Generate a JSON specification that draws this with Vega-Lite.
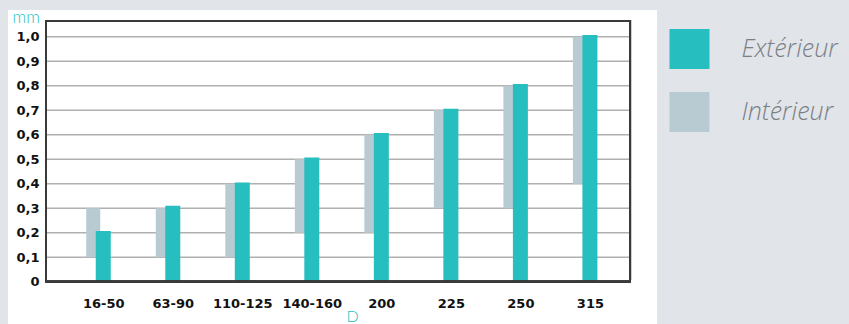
{
  "$schema": "https://vega.github.io/schema/vega-lite/v6.json",
  "width": 649,
  "height": 314,
  "autosize": {"type": "none"},
  "padding": {"left": 8, "top": 10, "right": 192, "bottom": 0},
  "background": "#e1e4e8",
  "config": {
    "view": {"fill": "white", "stroke": null},
    "axisY": {
      "orient": "left", "offset": -38,
      "domain": false, "ticks": false, "grid": false,
      "labelExpr": "datum.value == 0 ? '0' : replace(format(datum.value, '.1f'), '.', ',')",
      "labelFont": "DejaVu Sans", "labelFontWeight": "bold", "labelFontSize": 13, "labelColor": "#111111",
      "labelPadding": 7, "labelOverlap": false, "labelFlush": false,
      "titleAngle": 0, "titleX": -34, "titleY": 12, "titleAlign": "left", "titleBaseline": "alphabetic",
      "titleFont": "Lato", "titleFontWeight": 300, "titleFontSize": 17, "titleColor": "#26bebe"
    },
    "axisX": {
      "orient": "bottom", "offset": -42,
      "domain": false, "ticks": false, "grid": false,
      "labelExpr": "['16-50','63-90','110-125','140-160','200','225','250','315'][datum.value]",
      "labelFont": "DejaVu Sans", "labelFontWeight": "bold", "labelFontSize": 13, "labelColor": "#111111",
      "labelPadding": 15, "labelBaseline": "top", "labelDx": -3, "labelOverlap": false, "labelFlush": false, "labelBound": false,
      "titleX": 344, "titleY": 39, "titleAlign": "center", "titleBaseline": "alphabetic",
      "titleFont": "Lato", "titleFontWeight": 300, "titleFontSize": 16, "titleColor": "#26bebe"
    }
  },
  "datasets": {
    "bars": [
      {"D": "16-50", "i": 0, "ext": 0.207, "lo": 0.1, "hi": 0.3},
      {"D": "63-90", "i": 1, "ext": 0.31, "lo": 0.1, "hi": 0.3},
      {"D": "110-125", "i": 2, "ext": 0.405, "lo": 0.1, "hi": 0.4},
      {"D": "140-160", "i": 3, "ext": 0.507, "lo": 0.2, "hi": 0.5},
      {"D": "200", "i": 4, "ext": 0.607, "lo": 0.2, "hi": 0.6},
      {"D": "225", "i": 5, "ext": 0.706, "lo": 0.3, "hi": 0.7},
      {"D": "250", "i": 6, "ext": 0.807, "lo": 0.3, "hi": 0.8},
      {"D": "315", "i": 7, "ext": 1.007, "lo": 0.4, "hi": 1.0}
    ],
    "grid": [
      {"v": 0.1}, {"v": 0.2}, {"v": 0.3}, {"v": 0.4}, {"v": 0.5},
      {"v": 0.6}, {"v": 0.7}, {"v": 0.8}, {"v": 0.9}, {"v": 1.0}
    ]
  },
  "layer": [
    {
      "data": {"name": "grid"},
      "mark": {"type": "rule", "stroke": "#b0b0b0", "strokeWidth": 1.5},
      "encoding": {
        "y": {
          "field": "v", "type": "quantitative", "title": "mm",
          "scale": {"domain": [-0.1727, 1.109], "nice": false, "zero": false, "padding": 0},
          "axis": {"values": [0, 0.1, 0.2, 0.3, 0.4, 0.5, 0.6, 0.7, 0.8, 0.9, 1.0]}
        },
        "x": {
          "datum": -0.8234, "type": "quantitative", "title": "D",
          "scale": {"domain": [-1.37, 7.965], "nice": false, "zero": false, "padding": 0},
          "axis": {"values": [0, 1, 2, 3, 4, 5, 6, 7]}
        },
        "x2": {"datum": 7.577}
      }
    },
    {
      "data": {"name": "bars"},
      "mark": {"type": "bar", "size": 14, "xOffset": -10},
      "encoding": {
        "x": {
          "field": "i", "type": "quantitative", "title": "D",
          "scale": {"domain": [-1.37, 7.965], "nice": false, "zero": false, "padding": 0},
          "axis": {"values": [0, 1, 2, 3, 4, 5, 6, 7]}
        },
        "y": {
          "field": "lo", "type": "quantitative", "title": "mm",
          "scale": {"domain": [-0.1727, 1.109], "nice": false, "zero": false, "padding": 0},
          "axis": {"values": [0, 0.1, 0.2, 0.3, 0.4, 0.5, 0.6, 0.7, 0.8, 0.9, 1.0]}
        },
        "y2": {"field": "hi"},
        "color": {"datum": "Intérieur"}
      }
    },
    {
      "data": {"name": "bars"},
      "mark": {"type": "bar", "size": 15},
      "encoding": {
        "x": {
          "field": "i", "type": "quantitative", "title": "D",
          "scale": {"domain": [-1.37, 7.965], "nice": false, "zero": false, "padding": 0},
          "axis": {"values": [0, 1, 2, 3, 4, 5, 6, 7]}
        },
        "y": {
          "field": "ext", "type": "quantitative", "title": "mm",
          "scale": {"domain": [-0.1727, 1.109], "nice": false, "zero": false, "padding": 0},
          "axis": {"values": [0, 0.1, 0.2, 0.3, 0.4, 0.5, 0.6, 0.7, 0.8, 0.9, 1.0]}
        },
        "y2": {"datum": 0},
        "color": {
          "datum": "Extérieur",
          "scale": {"domain": ["Extérieur", "Intérieur"], "range": ["#26bebe", "#b9cbd2"]},
          "legend": {
            "orient": "none", "legendX": 661.5, "legendY": 19, "title": null, "padding": 0,
            "symbolType": "square", "symbolSize": 1600, "symbolStrokeWidth": 0, "symbolOpacity": 1,
            "labelFont": "Open Sans", "labelFontSize": 25, "labelFontStyle": "italic", "labelFontWeight": 300,
            "labelColor": "#7b8086", "labelOffset": 32, "rowPadding": 23, "labelLimit": 300
          }
        }
      }
    },
    {
      "data": {"name": "grid"},
      "mark": {"type": "rect", "fill": "transparent", "stroke": "#3a3a3a", "strokeWidth": 2},
      "encoding": {
        "x": {
          "datum": -0.8234, "type": "quantitative", "title": "D",
          "scale": {"domain": [-1.37, 7.965], "nice": false, "zero": false, "padding": 0},
          "axis": {"values": [0, 1, 2, 3, 4, 5, 6, 7]}
        },
        "x2": {"datum": 7.577},
        "y": {
          "datum": 0, "type": "quantitative", "title": "mm",
          "scale": {"domain": [-0.1727, 1.109], "nice": false, "zero": false, "padding": 0},
          "axis": {"values": [0, 0.1, 0.2, 0.3, 0.4, 0.5, 0.6, 0.7, 0.8, 0.9, 1.0]}
        },
        "y2": {"datum": 1.064}
      }
    }
  ]
}
